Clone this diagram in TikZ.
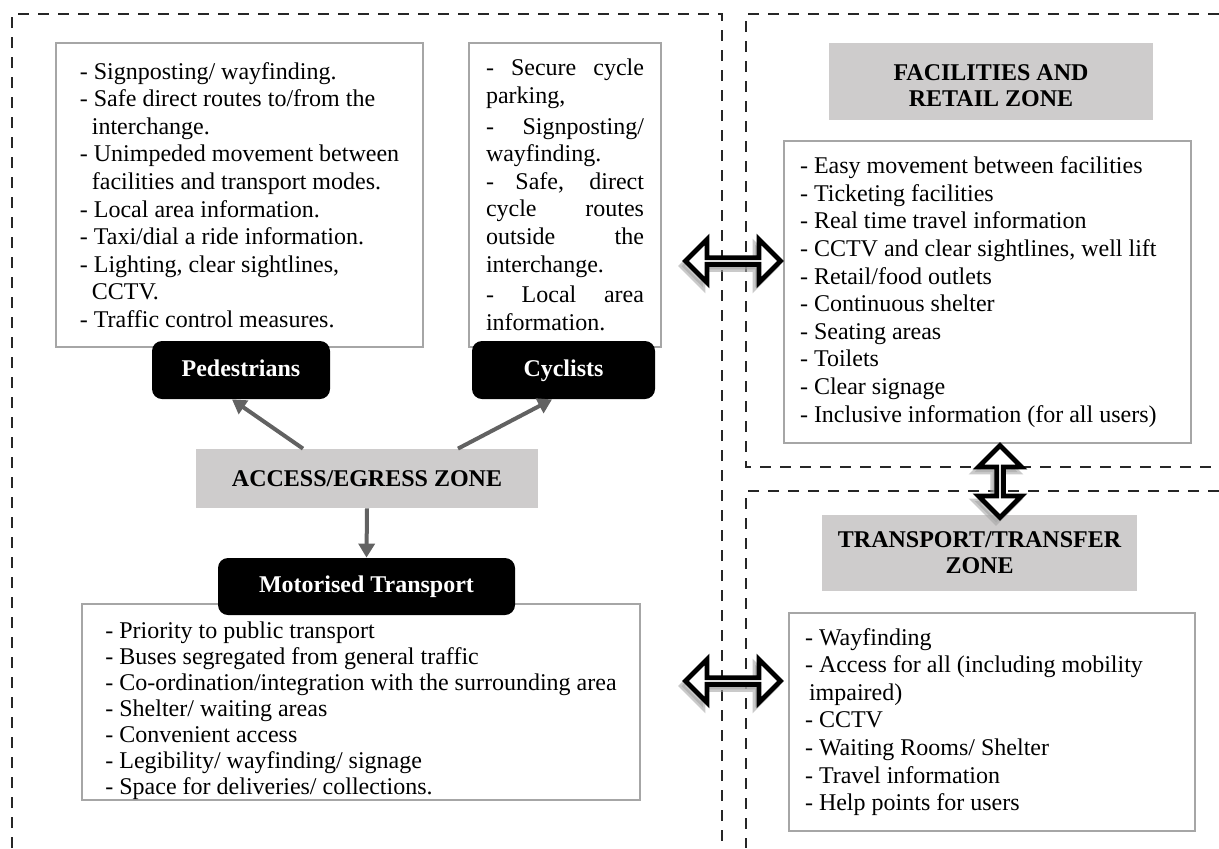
\documentclass[tikz,border=0pt]{standalone}
\usepackage{fontspec}
\setmainfont{Liberation Serif}
\usetikzlibrary{shapes,arrows.meta,positioning,shadows}
\definecolor{zonegrey}{RGB}{206,204,204}
\definecolor{linkgrey}{RGB}{98,98,98}
\newcommand{\jline}[1]{\makebox[79pt][s]{#1}}

\begin{document}
\begin{tikzpicture}
  [
    x=0.5pt, y=-0.5pt,
    Zone/.style={draw=black!85, line width=1.3pt, dash pattern=on 5.5pt off 4.5pt},
    List/.style={rectangle, draw=black!35, line width=0.9pt, fill=white, align=flush left, inner sep=0pt, font=\fontsize{12}{13.8}\selectfont},
    Black/.style={rectangle, rounded corners=5pt, fill=black, text=white, inner sep=0pt, minimum height=29pt, text height=8.5pt, text depth=2.5pt, font=\fontsize{12}{13.8}\selectfont\bfseries},
    Grey/.style={rectangle, fill=zonegrey, align=center, inner sep=0pt, font=\fontsize{12}{13}\selectfont\bfseries},
    Link/.style={draw=linkgrey, line width=2pt, -{Triangle[width=8pt,length=7pt]}},
    Swap/.style={double arrow, draw=black, line width=2.4pt, fill=white, inner sep=0pt, minimum height=47.5pt, minimum width=21.5pt, double arrow head extend=6.5pt, drop shadow={shadow xshift=-2pt, shadow yshift=-2.5pt, opacity=0.6, fill=gray!70, draw=gray!70, line width=2.4pt}}
  ]
  \useasboundingbox (0,0) rectangle (1219,848);

  % Zones
  \path [Zone] (12,848) -- (12,14) -- (722,14) -- (722,848);
  \path [Zone] (1219,14) -- (746,14) -- (746,467) -- (1219,467);
  \path [Zone] (1219,491) -- (746,491) -- (746,848);

  % Nodes (x, y)
  \node[List, minimum width=183.5pt, minimum height=152pt] (pedList) at(239.5, 195)
    {- Signposting/ wayfinding.\\
     - Safe direct routes to/from the\\
     \hspace*{6pt}interchange.\\
     - Unimpeded movement between\\
     \hspace*{6pt}facilities and transport modes.\\
     - Local area information.\\
     - Taxi/dial a ride information.\\
     - Lighting, clear sightlines,\\
     \hspace*{6pt}CCTV.\\
     - Traffic control measures.};
  \node[List, minimum width=96pt, minimum height=152pt] (cycList) at(565, 195)
    {\jline{- Secure cycle}\\
     parking,\\[1.5pt]
     \jline{- Signposting/}\\
     wayfinding.\\
     \jline{- Safe, direct}\\
     \jline{cycle routes}\\
     \jline{outside the}\\
     interchange.\\[1.5pt]
     \jline{- Local area}\\
     information.};
  \node[List, minimum width=279pt, minimum height=98pt, font=\fontsize{12}{13}\selectfont] (motList) at(361, 702)
    {\rule{0pt}{17pt}- Priority to public transport\\
     - Buses segregated from general traffic\\
     - Co-ordination/integration with the surrounding area\\
     - Shelter/ waiting areas\\
     - Convenient access\\
     - Legibility/ wayfinding/ signage\\
     - Space for deliveries/ collections.};
  \node[List, text width=187.5pt, inner xsep=8pt, minimum height=151pt] (facList) at(987.5, 292)
    {- Easy movement between facilities\\
     - Ticketing facilities\\
     - Real time travel information\\
     - CCTV and clear sightlines, well lift\\
     - Retail/food outlets\\
     - Continuous shelter\\
     - Seating areas\\
     - Toilets\\
     - Clear signage\\
     - Inclusive information (for all users)};
  \node[List, text width=187pt, inner xsep=8pt, minimum height=109pt] (traList) at(992, 722)
    {- Wayfinding\\
     - Access for all (including mobility\\
     \hspace*{2pt}impaired)\\
     - CCTV\\
     - Waiting Rooms/ Shelter\\
     - Travel information\\
     - Help points for users};

  \node[Black, minimum width=89pt] (ped) at(241, 370) {Pedestrians};
  \node[Black, minimum width=91.5pt] (cyc) at(563.5, 370) {Cyclists};
  \node[Black, minimum width=148.5pt, minimum height=28.5pt] (mot) at(366.5, 586.5) {Motorised Transport};

  \node[Grey, minimum width=171pt, minimum height=29.5pt] (access) at(367, 478.5) {ACCESS/EGRESS ZONE};
  \node[Grey, minimum width=162pt, minimum height=38.5pt] (fac) at(991, 81.5) {\rule{0pt}{12.5pt}FACILITIES AND\\RETAIL ZONE};
  \node[Grey, minimum width=157.5pt, minimum height=38pt] (tra) at(979.5, 553) {TRANSPORT/TRANSFER\\ZONE};

  \node[Swap] (swapTop) at(733, 261) {};
  \node[Swap] (swapBot) at(733, 681) {};
  \node[Swap, shape border rotate=90, minimum height=36pt] (swapMid) at(1000, 481.5) {};

  % Lines
  % access -> pedestrians
  \path [Link] ([xshift=-32pt]access.north) -- ([xshift=-4.5pt]ped.south);
  % access -> cyclists
  \path [Link] ([xshift=45.5pt]access.north) -- ([xshift=-5.75pt]cyc.south);
  % access -> motorised
  \path [Link] (access.south) -- (mot.north);

\end{tikzpicture}
\end{document}
